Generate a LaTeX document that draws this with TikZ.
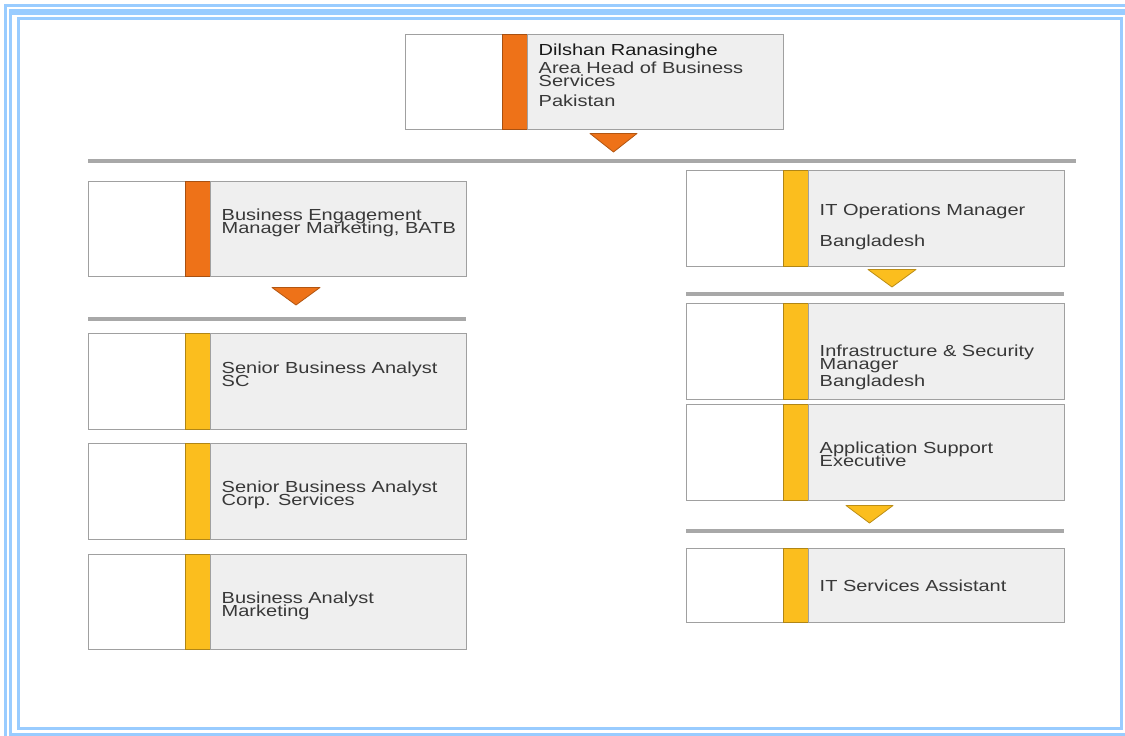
\documentclass[tikz,border=0pt]{standalone}
\usepackage{fontspec}
\setmainfont{Liberation Sans}[FakeStretch=1.25]
\usetikzlibrary{calc}

\definecolor{framecol}{HTML}{99CCFF}
\definecolor{boxline}{HTML}{A0A0A0}
\definecolor{boxfill}{HTML}{EFEFEF}
\definecolor{barorange}{HTML}{EE7218}
\definecolor{baryellow}{HTML}{FBBE1E}
\definecolor{sepgray}{HTML}{A8A8A8}
\definecolor{textcol}{HTML}{383838}
\AtBeginDocument{\setlength{\lineskiplimit}{-20pt}}

\begin{document}
\begin{tikzpicture}[x=1pt, y=-1pt,
    part/.style={draw=boxline, line width=1pt, inner sep=0pt, outer sep=0pt,
      anchor=north west, minimum height=#1},
    role/.style={anchor=north west, inner sep=0pt, align=left, text=textcol,
      font=\fontsize{16}{13}\selectfont},
    sepbar/.style={draw=sepgray, line width=4pt},
    marker/.style={fill=#1, draw=#1!75!black, line width=0.8pt, line join=round}]
  \useasboundingbox (0,0) rectangle (1125,736);

  % frame
  \draw[framecol, line width=3pt] (5.5,5.5) rectangle (1140,750);
  \fill[framecol] (9,9) rectangle (1140,15);
  \draw[framecol, line width=3pt] (10.5,12) rectangle (1140,734.5);
  \draw[framecol, line width=3pt] (18.5,18.5) rectangle (1121.5,728.5);

  % boxes
  \foreach \n/\x/\y/\h/\c in {top/405/34/95/barorange,
      bem/88/181/95/barorange, sc/88/333/96/baryellow,
      corp/88/443/96/baryellow, mkt/88/554/95/baryellow,
      itom/686/170/96/baryellow, ism/686/303/96/baryellow,
      ase/686/404/96/baryellow, itsa/686/548/74/baryellow}{
    \node[part=\h, fill=white, minimum width=97] (\n-w) at (\x,\y) {};
    \node[part=\h, fill=\c, draw=\c!70!black, minimum width=25] (\n-b) at (\n-w.north east) {};
    \node[part=\h, fill=boxfill, minimum width=256] (\n-g) at (\n-b.north east) {};
  }

  \node[role] (top-t) at ($(top-g.north west)+(11.5,10)$)
    {\textcolor{black!90}{Dilshan Ranasinghe}\\[5pt]Area Head of Business\\Services\\[7pt]Pakistan};
  \node[role] (bem-t) at ($(bem-g.north west)+(11.5,28)$)
    {Business Engagement\\Manager Marketing, BATB};
  \node[role] (sc-t) at ($(sc-g.north west)+(11.5,29)$)
    {Senior Business Analyst\\SC};
  \node[role] (corp-t) at ($(corp-g.north west)+(11.5,38)$)
    {Senior Business Analyst\\Corp. Services};
  \node[role] (mkt-t) at ($(mkt-g.north west)+(11.5,38)$)
    {Business Analyst\\Marketing};
  \node[role] (itom-t) at ($(itom-g.north west)+(11.5,34)$)
    {IT Operations Manager\\[18pt]Bangladesh};
  \node[role] (ism-t) at ($(ism-g.north west)+(11.5,42)$)
    {Infrastructure \& Security\\Manager\\[4pt]Bangladesh};
  \node[role] (ase-t) at ($(ase-g.north west)+(11.5,38)$)
    {Application Support\\Executive};
  \node[role] (itsa-t) at ($(itsa-g.north west)+(11.5,32)$)
    {IT Services Assistant};

  % levels
  \draw[sepbar] (88,161) -- (1076,161);
  \draw[sepbar] (88,319) -- (466,319);
  \draw[sepbar] (686,294) -- (1064,294);
  \draw[sepbar] (686,530.5) -- (1064,530.5);

  \draw[marker=barorange] (590,133.5) -- (637,133.5) -- (613.5,152) -- cycle;
  \draw[marker=barorange] (272,287.5) -- (320,287.5) -- (296,305) -- cycle;
  \draw[marker=baryellow] (868,269.5) -- (916,269.5) -- (892,287) -- cycle;
  \draw[marker=baryellow] (846,505.5) -- (893,505.5) -- (869.5,523) -- cycle;
\end{tikzpicture}
\end{document}
